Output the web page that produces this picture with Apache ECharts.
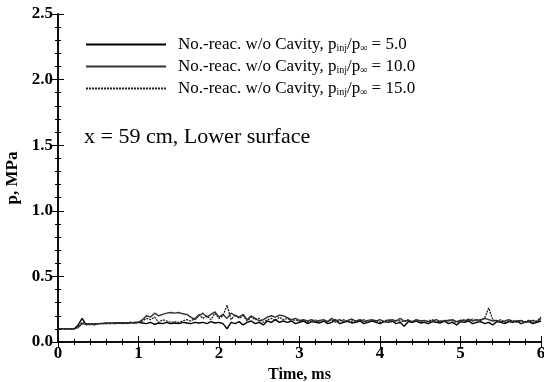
<!DOCTYPE html>
<html>
<head>
<meta charset="utf-8">
<script src="https://cdn.jsdelivr.net/npm/echarts@6/dist/echarts.min.js"></script>
<style>
  html, body { margin: 0; padding: 0; background: #fff; }
  #chart { width: 544px; height: 382px; }
</style>
</head>
<body>
<div id="chart"></div>
<script>
// time, ms
const timeMs = [
  0.00, 0.05, 0.10, 0.15, 0.20, 0.25, 0.30, 0.35, 0.40, 0.45,
  0.50, 0.55, 0.60, 0.65, 0.70, 0.75, 0.80, 0.85, 0.90, 0.95,
  1.00, 1.05, 1.10, 1.15, 1.20, 1.25, 1.30, 1.35, 1.40, 1.45,
  1.50, 1.55, 1.60, 1.65, 1.70, 1.75, 1.80, 1.85, 1.90, 1.95,
  2.00, 2.05, 2.10, 2.15, 2.20, 2.25, 2.30, 2.35, 2.40, 2.45,
  2.50, 2.55, 2.60, 2.65, 2.70, 2.75, 2.80, 2.85, 2.90, 2.95,
  3.00, 3.05, 3.10, 3.15, 3.20, 3.25, 3.30, 3.35, 3.40, 3.45,
  3.50, 3.55, 3.60, 3.65, 3.70, 3.75, 3.80, 3.85, 3.90, 3.95,
  4.00, 4.05, 4.10, 4.15, 4.20, 4.25, 4.30, 4.35, 4.40, 4.45,
  4.50, 4.55, 4.60, 4.65, 4.70, 4.75, 4.80, 4.85, 4.90, 4.95,
  5.00, 5.05, 5.10, 5.15, 5.20, 5.25, 5.30, 5.35, 5.40, 5.45,
  5.50, 5.55, 5.60, 5.65, 5.70, 5.75, 5.80, 5.85, 5.90, 5.95,
  6.00
];

// p, MPa  -- pinj/pinf = 5.0
const p5 = [
  0.10, 0.10, 0.10, 0.10, 0.10, 0.13, 0.18, 0.13, 0.14, 0.13,
  0.14, 0.14, 0.145, 0.14, 0.145, 0.145, 0.145, 0.145, 0.15, 0.145,
  0.15, 0.145, 0.14, 0.15, 0.135, 0.145, 0.14, 0.15, 0.14, 0.145,
  0.14, 0.15, 0.145, 0.14, 0.15, 0.145, 0.15, 0.14, 0.155, 0.145,
  0.15, 0.14, 0.10, 0.15, 0.14, 0.155, 0.13, 0.15, 0.16, 0.14,
  0.15, 0.13, 0.16, 0.15, 0.17, 0.15, 0.16, 0.15, 0.16, 0.14,
  0.15, 0.16, 0.14, 0.155, 0.15, 0.145, 0.16, 0.14, 0.15, 0.17,
  0.14, 0.15, 0.16, 0.145, 0.15, 0.16, 0.14, 0.15, 0.16, 0.15,
  0.14, 0.155, 0.15, 0.16, 0.14, 0.15, 0.12, 0.155, 0.15, 0.16,
  0.145, 0.15, 0.14, 0.155, 0.15, 0.145, 0.16, 0.14, 0.15, 0.13,
  0.155, 0.15, 0.16, 0.14, 0.15, 0.155, 0.14, 0.15, 0.13, 0.155,
  0.15, 0.14, 0.155, 0.15, 0.16, 0.14, 0.15, 0.155, 0.14, 0.15,
  0.16
];

// pinj/pinf = 10.0
const p10 = [
  0.10, 0.10, 0.10, 0.10, 0.10, 0.11, 0.14, 0.135, 0.14, 0.135,
  0.14, 0.14, 0.14, 0.145, 0.14, 0.145, 0.14, 0.145, 0.145, 0.15,
  0.15, 0.17, 0.20, 0.19, 0.22, 0.20, 0.21, 0.22, 0.225, 0.22,
  0.225, 0.215, 0.21, 0.19, 0.17, 0.20, 0.22, 0.19, 0.21, 0.23,
  0.19, 0.21, 0.18, 0.22, 0.20, 0.19, 0.21, 0.17, 0.20, 0.18,
  0.16, 0.17, 0.19, 0.20, 0.19, 0.205, 0.20, 0.185, 0.17, 0.18,
  0.165, 0.17, 0.16, 0.17, 0.155, 0.165, 0.17, 0.155, 0.18, 0.16,
  0.17, 0.155, 0.165, 0.175, 0.16, 0.17, 0.155, 0.165, 0.17, 0.16,
  0.17, 0.155, 0.165, 0.17, 0.16, 0.18, 0.16, 0.165, 0.155, 0.17,
  0.16, 0.165, 0.155, 0.16, 0.17, 0.155, 0.165, 0.16, 0.17, 0.155,
  0.165, 0.16, 0.175, 0.16, 0.17, 0.165, 0.18, 0.17, 0.16, 0.165,
  0.155, 0.16, 0.17, 0.155, 0.16, 0.165, 0.15, 0.16, 0.165, 0.155,
  0.18
];

// pinj/pinf = 15.0
const p15 = [
  0.10, 0.10, 0.10, 0.10, 0.10, 0.12, 0.15, 0.14, 0.13, 0.14,
  0.14, 0.145, 0.14, 0.145, 0.14, 0.145, 0.145, 0.14, 0.15, 0.145,
  0.15, 0.16, 0.18, 0.17, 0.19, 0.15, 0.17, 0.16, 0.15, 0.155,
  0.15, 0.16, 0.17, 0.16, 0.18, 0.21, 0.18, 0.20, 0.17, 0.22,
  0.18, 0.20, 0.28, 0.17, 0.21, 0.18, 0.20, 0.16, 0.19, 0.17,
  0.18, 0.15, 0.17, 0.18, 0.16, 0.19, 0.17, 0.18, 0.16, 0.17,
  0.155, 0.165, 0.15, 0.16, 0.17, 0.15, 0.16, 0.155, 0.17, 0.15,
  0.16, 0.17, 0.15, 0.16, 0.155, 0.165, 0.17, 0.15, 0.16, 0.165,
  0.15, 0.16, 0.17, 0.15, 0.165, 0.16, 0.155, 0.17, 0.15, 0.16,
  0.165, 0.15, 0.16, 0.17, 0.15, 0.16, 0.155, 0.17, 0.16, 0.15,
  0.165, 0.17, 0.16, 0.175, 0.16, 0.17, 0.18, 0.26, 0.17, 0.16,
  0.17, 0.15, 0.16, 0.165, 0.15, 0.16, 0.155, 0.165, 0.15, 0.16,
  0.19
];

const seriesNames = ['5.0', '10.0', '15.0'];
const xTicks = [0, 1, 2, 3, 4, 5, 6];
const yTicks = [0, 0.5, 1.0, 1.5, 2.0, 2.5];

const font = 'Liberation Serif';

function pairs(ys) {
  return timeMs.map((t, i) => [t, ys[i]]);
}

const chart = echarts.init(document.getElementById('chart'));

const tickStyle = { inside: true, length: 6, lineStyle: { color: '#000', width: 1 } };
const minorStyle = { show: true, splitNumber: 5, length: 3, lineStyle: { color: '#000', width: 1 } };

chart.setOption({
  backgroundColor: '#fff',
  animation: false,
  grid: { left: 58, right: 3, top: 14, bottom: 40, containLabel: false, outerBoundsMode: 'none' },
  legend: {
    orient: 'vertical',
    left: 80,
    top: 31,
    itemWidth: 80,
    itemHeight: 10,
    itemGap: 5,
    itemStyle: { opacity: 0 },
    data: seriesNames,
    formatter: (name) =>
      '{n|No.-reac. w/o Cavity, p}{s|inj}{n|/p}{s|\u221e}{n| = ' + name + '}',
    textStyle: {
      color: '#000',
      fontFamily: font,
      padding: [0, 0, 0, 7],
      rich: {
        n: { fontFamily: font, fontSize: 17, color: '#000', lineHeight: 17 },
        s: { fontFamily: font, fontSize: 10, color: '#000', lineHeight: 17, padding: [7, 0, 0, 0] }
      }
    }
  },
  graphic: [
    {
      type: 'text',
      left: 84,
      top: 126,
      style: { text: 'x = 59 cm, Lower surface', font: '22px "Liberation Serif"', fill: '#000' }
    }
  ],
  xAxis: [
    {
      type: 'value',
      min: xTicks[0],
      max: xTicks[xTicks.length - 1],
      interval: 1,
      name: 'Time, ms',
      nameLocation: 'middle',
      nameGap: 19,
      nameTextStyle: { fontFamily: font, fontSize: 16, fontWeight: 'bold', color: '#000' },
      axisLine: { lineStyle: { color: '#000', width: 1.5 } },
      axisTick: tickStyle,
      minorTick: minorStyle,
      splitLine: { show: false },
      axisLabel: { fontFamily: font, fontSize: 17, fontWeight: 'bold', color: '#000', margin: 3 }
    },
    {
      type: 'value',
      position: 'top',
      min: xTicks[0],
      max: xTicks[xTicks.length - 1],
      interval: 1,
      axisLine: { lineStyle: { color: '#000', width: 1.5 } },
      axisTick: tickStyle,
      minorTick: minorStyle,
      splitLine: { show: false },
      axisLabel: { show: false }
    }
  ],
  yAxis: [
    {
      type: 'value',
      min: yTicks[0],
      max: yTicks[yTicks.length - 1],
      interval: 0.5,
      name: 'p, MPa',
      nameLocation: 'middle',
      nameGap: 34,
      nameTextStyle: { fontFamily: font, fontSize: 17, fontWeight: 'bold', color: '#000' },
      axisLine: { lineStyle: { color: '#000', width: 1.5 } },
      axisTick: tickStyle,
      minorTick: minorStyle,
      splitLine: { show: false },
      axisLabel: {
        fontFamily: font, fontSize: 17, fontWeight: 'bold', color: '#000', margin: 5,
        formatter: (v) => v.toFixed(1)
      }
    },
    {
      type: 'value',
      position: 'right',
      min: yTicks[0],
      max: yTicks[yTicks.length - 1],
      interval: 0.5,
      axisLine: { lineStyle: { color: '#000', width: 1.5 } },
      axisTick: tickStyle,
      minorTick: minorStyle,
      splitLine: { show: false },
      axisLabel: { show: false }
    }
  ],
  series: [
    {
      name: seriesNames[0], type: 'line', symbol: 'none', data: pairs(p5),
      lineStyle: { color: '#000', width: 1.4 }, itemStyle: { color: '#000' }
    },
    {
      name: seriesNames[1], type: 'line', symbol: 'none', data: pairs(p10),
      lineStyle: { color: '#333', width: 1.4 }, itemStyle: { color: '#333' }
    },
    {
      name: seriesNames[2], type: 'line', symbol: 'none', data: pairs(p15),
      lineStyle: { color: '#222', width: 1.3, type: [2, 1] }, itemStyle: { color: '#222' }
    }
  ]
});
</script>
</body>
</html>
